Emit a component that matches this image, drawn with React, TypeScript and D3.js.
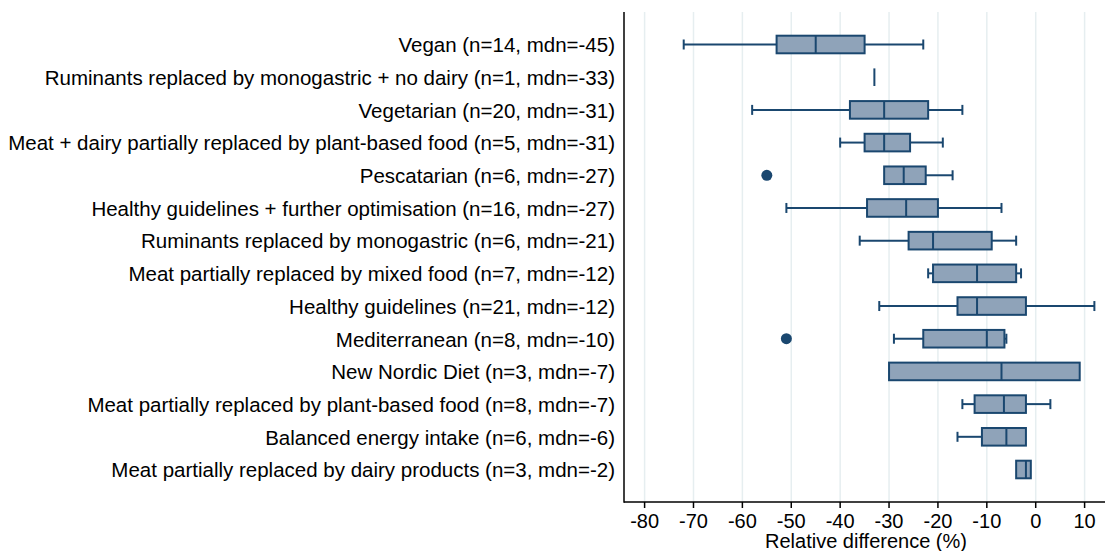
import React from "react";
import * as d3 from "d3";

const categories = [
  "Vegan (n=14, mdn=-45)",
  "Ruminants replaced by monogastric + no dairy (n=1, mdn=-33)",
  "Vegetarian (n=20, mdn=-31)",
  "Meat + dairy partially replaced by plant-based food (n=5, mdn=-31)",
  "Pescatarian (n=6, mdn=-27)",
  "Healthy guidelines + further optimisation (n=16, mdn=-27)",
  "Ruminants replaced by monogastric (n=6, mdn=-21)",
  "Meat partially replaced by mixed food (n=7, mdn=-12)",
  "Healthy guidelines (n=21, mdn=-12)",
  "Mediterranean (n=8, mdn=-10)",
  "New Nordic Diet (n=3, mdn=-7)",
  "Meat partially replaced by plant-based food (n=8, mdn=-7)",
  "Balanced energy intake (n=6, mdn=-6)",
  "Meat partially replaced by dairy products (n=3, mdn=-2)",
];
const lowWhisker = [-72, -33, -58, -40, -31, -51, -36, -22, -32, -29, -30, -15, -16, -4];
const q1 = [-53, -33, -38, -35, -31, -34.5, -26, -21, -16, -23, -30, -12.5, -11, -4];
const median = [-45, -33, -31, -31, -27, -26.5, -21, -12, -12, -10, -7, -6.5, -6, -2];
const q3 = [-35, -33, -22, -25.7, -22.5, -20, -9, -4, -2, -6.4, 9, -2, -2, -1];
const highWhisker = [-23, -33, -15, -19, -17, -7, -4, -3, 12, -6, 9, 3, -2, -1];
const outliers: [number, number][] = [
  [4, -55],
  [9, -51],
];
const xTicks = [-80, -70, -60, -50, -40, -30, -20, -10, 0, 10];
const xTitle = "Relative difference (%)";

const W = 1105;
const H = 551;
const plotLeft = 624;
const plotTop = 12;
const plotBottom = 502;
const plotRight = 1105;

const FILL = "#8fa3b9";
const NAVY = "#1a476f";
const GRID = "#e6eef0";
const FONT = "'Liberation Sans', Arial, Helvetica, sans-serif";

export default function App() {
  const x = d3.scaleLinear().domain([-80, 10]).range([644.6, 1084.6]);
  const y = d3
    .scalePoint<number>()
    .domain(d3.range(categories.length))
    .range([44.5, 469.5]);
  const boxH = 17.6;
  const capH = 10;

  return (
    <svg
      width={W}
      height={H}
      style={{ position: "absolute", left: 0, top: 0, background: "#fff" }}
      fontFamily={FONT}
    >
      {xTicks.map((t) => (
        <line
          key={"g" + t}
          x1={x(t)}
          x2={x(t)}
          y1={plotTop}
          y2={plotBottom}
          stroke={GRID}
          strokeWidth={1.5}
        />
      ))}
      {categories.map((c, i) => {
        const cy = y(i)!;
        return (
          <g key={c}>
            <text
              x={615}
              y={cy}
              dy="0.38em"
              textAnchor="end"
              fontSize={20.5}
              fill="#000"
            >
              {c}
            </text>
            {lowWhisker[i] < q1[i] && (
              <>
                <line x1={x(lowWhisker[i])} x2={x(q1[i])} y1={cy} y2={cy} stroke={NAVY} strokeWidth={2} />
                <line x1={x(lowWhisker[i])} x2={x(lowWhisker[i])} y1={cy - capH / 2} y2={cy + capH / 2} stroke={NAVY} strokeWidth={2} />
              </>
            )}
            {highWhisker[i] > q3[i] && (
              <>
                <line x1={x(q3[i])} x2={x(highWhisker[i])} y1={cy} y2={cy} stroke={NAVY} strokeWidth={2} />
                <line x1={x(highWhisker[i])} x2={x(highWhisker[i])} y1={cy - capH / 2} y2={cy + capH / 2} stroke={NAVY} strokeWidth={2} />
              </>
            )}
            {q3[i] > q1[i] ? (
              <rect
                x={x(q1[i])}
                y={cy - boxH / 2}
                width={x(q3[i]) - x(q1[i])}
                height={boxH}
                fill={FILL}
                stroke={NAVY}
                strokeWidth={2}
              />
            ) : null}
            <line
              x1={x(median[i])}
              x2={x(median[i])}
              y1={cy - boxH / 2}
              y2={cy + boxH / 2}
              stroke={NAVY}
              strokeWidth={2}
            />
          </g>
        );
      })}
      {outliers.map(([i, v], k) => (
        <circle key={"o" + k} cx={x(v)} cy={y(i)!} r={5.5} fill={NAVY} />
      ))}
      <line x1={plotLeft} x2={plotLeft} y1={plotTop} y2={plotBottom + 0.75} stroke="#000" strokeWidth={1.5} />
      <line x1={plotLeft} x2={plotRight} y1={plotBottom} y2={plotBottom} stroke="#000" strokeWidth={1.5} />
      {xTicks.map((t) => (
        <g key={"t" + t}>
          <line x1={x(t)} x2={x(t)} y1={plotBottom} y2={plotBottom + 6} stroke="#000" strokeWidth={1.5} />
          <text x={x(t)} y={528} textAnchor="middle" fontSize={20} fill="#000">
            {t}
          </text>
        </g>
      ))}
      <text x={866} y={548} textAnchor="middle" fontSize={20} fill="#000">
        {xTitle}
      </text>
    </svg>
  );
}
